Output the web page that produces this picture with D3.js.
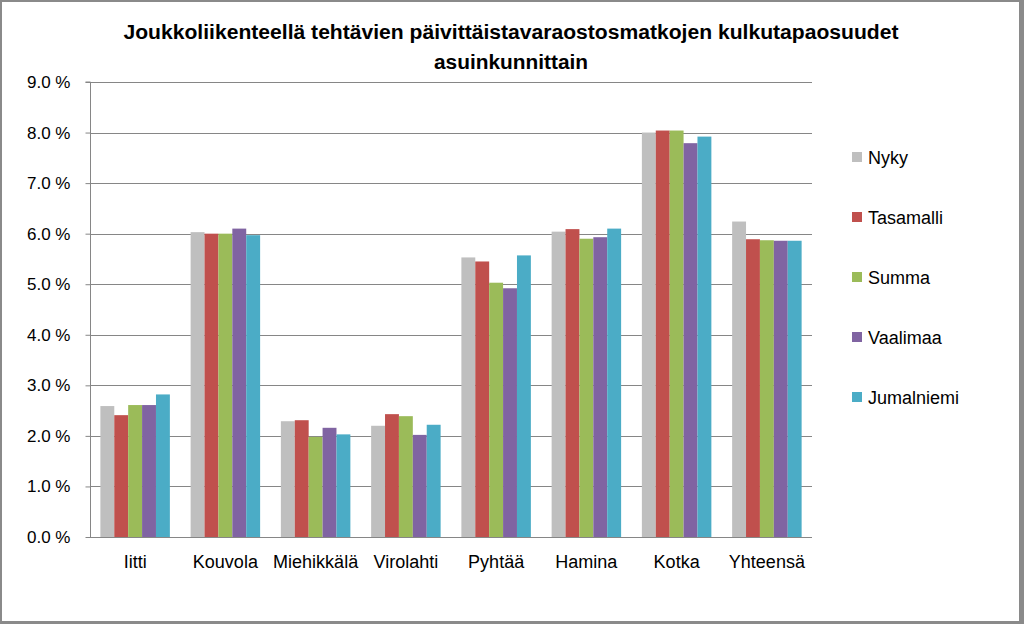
<!DOCTYPE html>
<html>
<head>
<meta charset="utf-8">
<script src="https://cdn.jsdelivr.net/npm/d3@7"></script>
<style>
html,body{margin:0;padding:0;background:#fff;}
svg{display:block;}
text{font-family:"Liberation Sans","DejaVu Sans",sans-serif;fill:#000;}
</style>
</head>
<body>
<svg id="chart" width="1024" height="624"></svg>
<script>
const categories = ["Iitti","Kouvola","Miehikkälä","Virolahti","Pyhtää","Hamina","Kotka","Yhteensä"];
const seriesNames = ["Nyky","Tasamalli","Summa","Vaalimaa","Jumalniemi"];
const seriesColors = ["#BFBFBF","#C0504D","#9BBB59","#8064A2","#4BACC6"];
const nyky       = [2.59, 6.03, 2.29, 2.20, 5.53, 6.04, 8.00, 6.24];
const tasamalli  = [2.41, 6.00, 2.31, 2.43, 5.45, 6.09, 8.04, 5.89];
const summa      = [2.61, 6.00, 1.98, 2.39, 5.03, 5.90, 8.04, 5.87];
const vaalimaa   = [2.61, 6.10, 2.16, 2.02, 4.92, 5.93, 7.79, 5.86];
const jumalniemi = [2.82, 5.97, 2.03, 2.22, 5.57, 6.10, 7.92, 5.86];
const yTicks = [0,1,2,3,4,5,6,7,8,9];
const titleLines = ["Joukkoliikenteellä tehtävien päivittäistavaraostosmatkojen kulkutapaosuudet","asuinkunnittain"];

const seriesValues = [nyky, tasamalli, summa, vaalimaa, jumalniemi];
const svg = d3.select("#chart");

// frame
svg.append("rect").attr("x",0).attr("y",0).attr("width",1024).attr("height",624).attr("fill","#8a8a8a");
svg.append("rect").attr("x",2).attr("y",2).attr("width",1017).attr("height",619).attr("fill","#fff");

const plot = {left:90, right:812, top:82, bottom:537};

const x0 = d3.scaleBand().domain(categories).range([plot.left, plot.right]).paddingInner(0.23).paddingOuter(0.115);
const x1 = d3.scaleBand().domain(seriesNames).range([0, x0.bandwidth()]);
const y = d3.scaleLinear().domain([0,9]).range([plot.bottom, plot.top]);

// gridlines
svg.append("g").selectAll("line").data(yTicks.filter(d=>d>0)).join("line")
  .attr("x1",plot.left).attr("x2",plot.right)
  .attr("y1",d=>Math.round(y(d))+0.5).attr("y2",d=>Math.round(y(d))+0.5)
  .attr("stroke","#868686").attr("stroke-width",1);

// bars
const groups = svg.append("g").selectAll("g").data(categories).join("g")
  .attr("transform",c=>`translate(${x0(c)},0)`);
groups.selectAll("rect").data((c,i)=>seriesNames.map((s,j)=>({s, v:seriesValues[j][i], color:seriesColors[j]}))).join("rect")
  .attr("x",d=>x1(d.s)).attr("width",x1.bandwidth())
  .attr("y",d=>y(d.v)).attr("height",d=>y(0)-y(d.v))
  .attr("fill",d=>d.color);

// y axis
const yAxis = d3.axisLeft(y).tickValues(yTicks).tickSize(5).tickPadding(15)
  .tickFormat(d=>d3.format(".1f")(d)+" %");
const ya = svg.append("g").attr("transform",`translate(${plot.left+0.5},0)`).call(yAxis);
ya.select(".domain").attr("stroke","#868686").attr("d",`M-5,${plot.top}H0V${plot.bottom}`);
ya.selectAll(".tick line").attr("stroke","#868686");
ya.selectAll(".tick text").attr("font-size",17).attr("font-family","Liberation Sans, sans-serif").attr("fill","#000");

// x axis
const xAxis = d3.axisBottom(x0).tickSize(0).tickPadding(18);
const xa = svg.append("g").attr("transform",`translate(0,${plot.bottom+0.5})`).call(xAxis);
xa.select(".domain").attr("stroke","#868686").attr("d",`M${plot.left},0H${plot.right}`);
xa.selectAll(".tick text").attr("font-size",18).attr("font-family","Liberation Sans, sans-serif").attr("fill","#000");

// title
svg.append("text").attr("x",511).attr("y",39).attr("text-anchor","middle")
  .attr("font-size",20).attr("font-weight","bold")
  .attr("textLength",775).attr("lengthAdjust","spacingAndGlyphs")
  .text(titleLines[0]);
svg.append("text").attr("x",511).attr("y",69).attr("text-anchor","middle")
  .attr("font-size",20).attr("font-weight","bold")
  .attr("textLength",154).attr("lengthAdjust","spacingAndGlyphs")
  .text(titleLines[1]);

// legend
const legend = svg.append("g").selectAll("g").data(seriesNames).join("g")
  .attr("transform",(d,i)=>`translate(852,${157 + i*60})`);
legend.append("rect").attr("x",0).attr("y",-5).attr("width",10).attr("height",10)
  .attr("fill",(d,i)=>seriesColors[i]);
legend.append("text").attr("x",16).attr("y",6.5).attr("font-size",18).text(d=>d);
</script>
</body>
</html>
